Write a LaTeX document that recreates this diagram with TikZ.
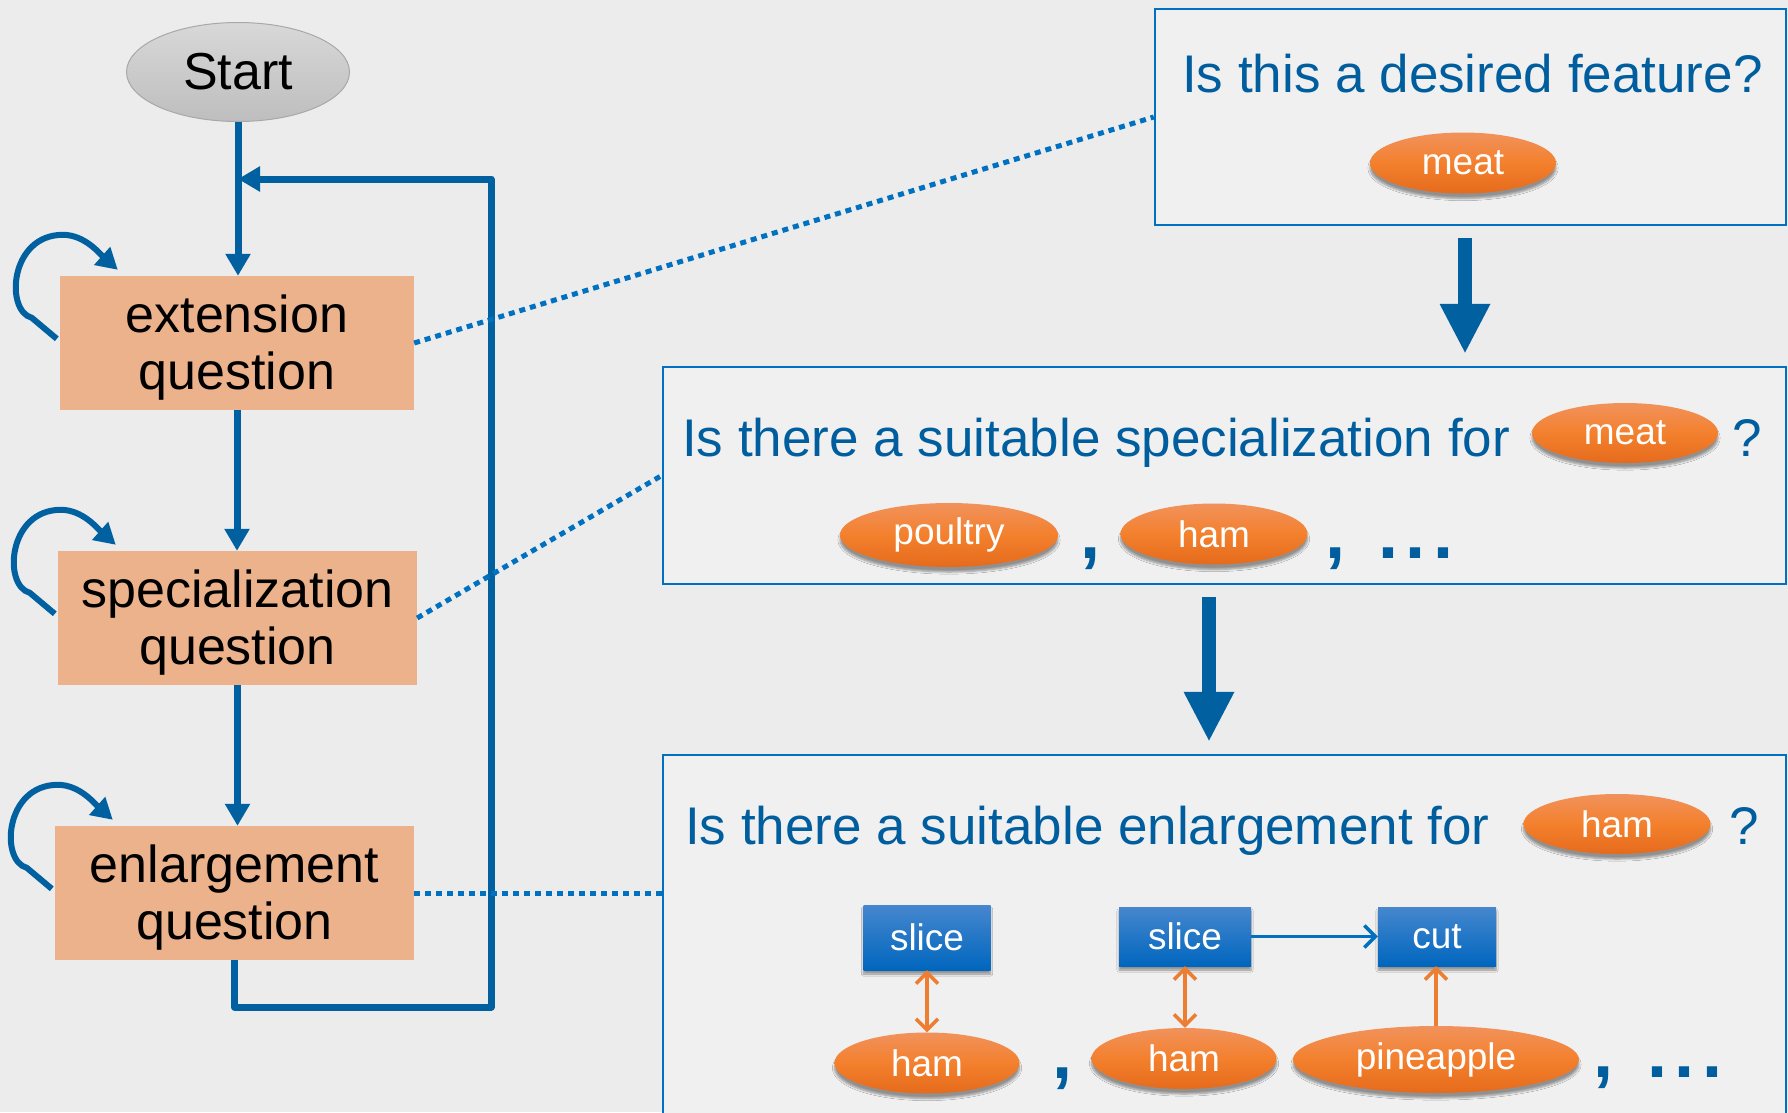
\documentclass[tikz,border=0pt]{standalone}
\usepackage{fontspec}
\setmainfont{Liberation Sans}
\usetikzlibrary{arrows.meta,shapes.geometric,shadows.blur,calc}

\definecolor{bgc}{RGB}{236,236,236}
\definecolor{panelc}{RGB}{240,240,240}
\definecolor{flowblue}{RGB}{0,96,160}
\definecolor{dotblue}{RGB}{0,112,192}
\definecolor{textblue}{RGB}{0,94,158}
\definecolor{qfill}{RGB}{236,178,139}
\definecolor{orA}{RGB}{241,146,92}
\definecolor{orB}{RGB}{243,128,45}
\definecolor{orC}{RGB}{229,107,28}
\definecolor{arrowor}{RGB}{237,125,49}
\definecolor{slA}{RGB}{70,135,206}
\definecolor{slB}{RGB}{0,102,190}
\definecolor{stA}{RGB}{216,216,216}
\definecolor{stB}{RGB}{190,190,190}
\definecolor{stD}{RGB}{168,168,168}

% curved self-loop arrow at the top left corner of a question box
\newcommand\selfloop[1]{%
  \draw[loopar] ($(#1.north west)+(-3,63)$) -- ($(#1.north west)+(-28,42)$)
    .. controls ($(#1.north west)+(-55,35)$) and ($(#1.north west)+(-50,-41)$) .. ($(#1.north west)+(3,-41)$)
    .. controls ($(#1.north west)+(25,-41)$) and ($(#1.north west)+(40,-22)$) .. ($(#1.north west)+(58,-6)$);}

\begin{document}
\begin{tikzpicture}[x=1pt,y=-1pt,
  qbox/.style={rectangle, fill=qfill, minimum height=134pt, align=center,
    inner sep=0pt, text height=104pt, font=\fontsize{52}{57}\selectfont},
  startnode/.style={ellipse, top color=stA, bottom color=stB, draw=stD, line width=1pt,
    minimum width=223pt, minimum height=99pt, inner sep=0pt, font=\fontsize{52}{57}\selectfont},
  flow/.style={draw=flowblue, line width=7pt, -{Triangle[width=24pt,length=22pt]}},
  loopar/.style={draw=flowblue, line width=6pt, -{Triangle[width=23pt,length=21pt]}},
  dotline/.style={draw=dotblue, line width=5pt, dash pattern=on 6pt off 5pt},
  panel/.style={rectangle, draw=dotblue, line width=2.5pt, fill=panelc, inner sep=0pt},
  bigarrow/.style={draw=flowblue, line width=14pt, -{Triangle[width=47pt,length=50pt]},
    shorten <=12pt, shorten >=12pt},
  qtext/.style={text=textblue, inner sep=0pt, anchor=base west, font=\fontsize{53}{60}\selectfont},
  punct/.style={text=textblue, inner sep=0pt, anchor=base west, font=\fontsize{72}{72}\selectfont\bfseries},
  tag/.style={ellipse, top color=orA, bottom color=orC, middle color=orB, text=white,
    inner sep=0pt, font=\fontsize{37}{40}\selectfont,
    blur shadow={shadow xshift=0pt, shadow yshift=-5pt, shadow blur steps=6, shadow opacity=40}},
  cmd/.style={rectangle, top color=slA, bottom color=slB, text=white,
    inner sep=0pt, font=\fontsize{37}{40}\selectfont,
    blur shadow={shadow xshift=0pt, shadow yshift=-4pt, shadow blur steps=6, shadow opacity=40}},
  orboth/.style={draw=arrowor, line width=3.5pt,
    {Straight Barb[width=22pt,length=11pt]}-{Straight Barb[width=22pt,length=11pt]}},
  orone/.style={draw=arrowor, line width=3.5pt, -{Straight Barb[width=22pt,length=11pt]}},
  blueone/.style={draw=dotblue, line width=3.5pt, -{Straight Barb[width=22pt,length=11pt]}}
]
\useasboundingbox (0,0) rectangle (1788,1112);
\clip (0,0) rectangle (1788,1112);
\fill[bgc] (0,0) rectangle (1788,1112);

% ---- flow chart on the left ----
\node[startnode] (start) at (238,72) {Start};
\node[qbox, minimum width=354pt] (ext) at (237,343) {extension\\question};
\node[qbox, minimum width=359pt] (spec) at (237.5,618) {specialization\\question};
\node[qbox, minimum width=359pt] (enl) at (234.5,893) {enlargement\\question};

\coordinate (join) at (238,179);
\coordinate (ret) at (491,1007);

\draw[flow] (start.south) -- (start.south |- ext.north);
\draw[flow] (ext.south) -- (ext.south |- spec.north);
\draw[flow] (spec.south) -- (spec.south |- enl.north);
\draw[flow, line join=round] (enl.south) |- (ret) |- (join);

\selfloop{ext}
\selfloop{spec}
\selfloop{enl}

% ---- question panels on the right ----
\node[panel, minimum width=631pt, minimum height=216pt] (q1) at (1470.5,117) {};
\node[panel, minimum width=1123pt, minimum height=217pt] (q2) at (1224.5,475.5) {};
\node[panel, minimum width=1123pt, minimum height=385pt] (q3) at (1224.5,947.5) {};

\draw[dotline] (ext.east) -- (q1.west);
\draw[dotline] (spec.east) -- (q2.west);
\draw[dotline] (enl.east) -- (enl.east -| q3.west);

\coordinate (a1) at (1465,0);
\coordinate (a2) at (1209,0);
\draw[bigarrow] (q1.south -| a1) -- (q2.north -| a1);
\draw[bigarrow] (q2.south -| a2) -- (q3.north -| a2);

% panel 1
\node[qtext] (t1) at (1182,92) {Is this a desired feature?};
\node[tag, minimum width=186pt, minimum height=61pt] (m1) at (1463,163) {meat};

% panel 2
\node[qtext] (t2) at (682,456) {Is there a suitable specialization for};
\node[tag, minimum width=186pt, minimum height=60pt] (m2) at (1625,433) {meat};
\node[qtext] (qm2) at (1732,456) {?};
\node[tag, minimum width=218pt, minimum height=64pt] (pou) at (949,535) {poultry};
\node[punct] (c21) at (1080,558) {,};
\node[tag, minimum width=187pt, minimum height=61pt] (h0) at (1214,534) {ham};
\node[punct] (c22) at (1325,558) {,};
\node[punct] (d2) at (1378,558) {.\kern7.5pt.\kern7.5pt.};

% panel 3
\node[qtext] (t3) at (685,844) {Is there a suitable enlargement for};
\node[tag, minimum width=187pt, minimum height=60pt] (h3) at (1617,824) {ham};
\node[qtext] (qm3) at (1729,844) {?};

\node[cmd, minimum width=127pt, minimum height=65pt] (sl1) at (927,937.5) {slice};
\node[cmd, minimum width=132pt, minimum height=59pt] (sl2) at (1185,936.5) {slice};
\node[cmd, minimum width=118pt, minimum height=59pt] (cut) at (1437,936.5) {cut};

\node[tag, minimum width=185pt, minimum height=61pt] (h1) at (927,1063) {ham};
\node[punct] (c31) at (1052,1078) {,};
\node[tag, minimum width=185pt, minimum height=61pt] (h2) at (1184,1058.5) {ham};
\node[tag, minimum width=286pt, minimum height=67pt] (pa) at (1436,1059.5) {pineapple};
\node[punct] (c32) at (1593,1077) {,};
\node[punct] (d3) at (1647,1077) {.\kern7.5pt.\kern7.5pt.};

\draw[orboth] (sl1.south) -- (sl1.south |- h1.north);
\draw[orboth] (sl2.south) -- (sl2.south |- h2.north);
\draw[orone] (pa.north) -- (pa.north |- cut.south);
\draw[blueone] (sl2.east) -- (cut.west);
\end{tikzpicture}
\end{document}
